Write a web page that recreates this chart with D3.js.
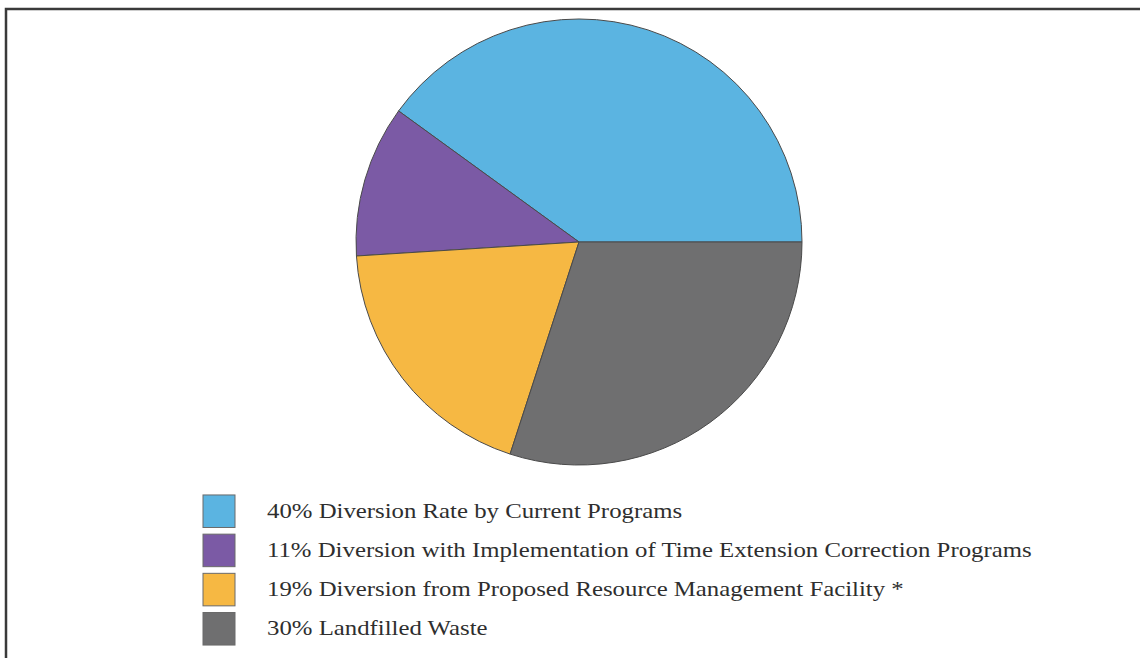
<!DOCTYPE html>
<html>
<head>
<meta charset="utf-8">
<script src="https://cdn.jsdelivr.net/npm/d3@7"></script>
<style>
  body { margin: 0; background: #fff; }
  .legendText { font-family: "Liberation Serif", "Times New Roman", serif; fill: #2e2e2e; }
</style>
</head>
<body>
<script>
//anonymous function to wrap script
(function(){

    //chart data
    var percents = [40, 11, 19, 30];
    var labels = [
        "40% Diversion Rate by Current Programs",
        "11% Diversion with Implementation of Time Extension Correction Programs",
        "19% Diversion from Proposed Resource Management Facility *",
        "30% Landfilled Waste"
    ];
    var colors = ["#5bb4e1", "#7b5aa5", "#f6b843", "#6f6f70"];

    window.onload = drawChart();

    function drawChart(){
        var width = 1140,
            height = 658;

        var svg = d3.select("body")
            .append("svg")
            .attr("width", width)
            .attr("height", height);

        //frame - only top and left edges sit inside the window
        svg.append("rect")
            .attr("x", 6)
            .attr("y", 9)
            .attr("width", width + 20)
            .attr("height", height + 20)
            .attr("fill", "none")
            .attr("stroke", "#3a3a3a")
            .attr("stroke-width", 2.5);

        //pie starts at 3 o'clock and runs counterclockwise
        var pie = d3.pie()
            .sort(null)
            .startAngle(Math.PI / 2)
            .endAngle(Math.PI / 2 - 2 * Math.PI);

        var arc = d3.arc()
            .innerRadius(0)
            .outerRadius(223);

        var pieGroup = svg.append("g")
            .attr("transform", "translate(579,242)");

        pieGroup.selectAll(".slice")
            .data(pie(percents))
            .enter()
            .append("path")
            .attr("class", "slice")
            .attr("d", arc)
            .attr("fill", function(d, i){ return colors[i]; })
            .attr("stroke", "#4a4a4a")
            .attr("stroke-width", 1);

        //legend
        var y = d3.scaleBand()
            .domain(d3.range(labels.length))
            .range([493, 647])
            .paddingInner(0.17)
            .paddingOuter(0.05);

        var legend = svg.append("g");

        var rows = legend.selectAll(".row")
            .data(labels)
            .enter()
            .append("g")
            .attr("class", "row")
            .attr("transform", function(d, i){ return "translate(0," + y(i) + ")"; });

        rows.append("rect")
            .attr("x", 203)
            .attr("width", 32)
            .attr("height", y.bandwidth())
            .attr("fill", function(d, i){ return colors[i]; })
            .attr("stroke", "#6a6a6a")
            .attr("stroke-width", 1);

        rows.append("text")
            .attr("class", "legendText")
            .attr("transform", "translate(267," + (y.bandwidth() / 2 + 6.5) + ") scale(1.24,1)")
            .style("font-size", "20px")
            .text(function(d){ return d; });
    };

})();
</script>
</body>
</html>
